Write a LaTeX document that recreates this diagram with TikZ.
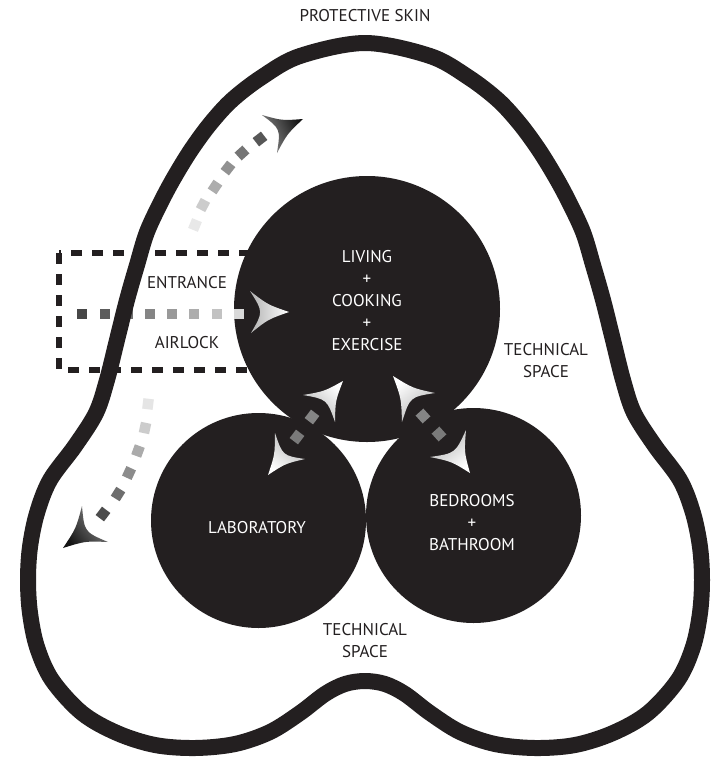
\documentclass[tikz,border=0pt]{standalone}
\usepackage{fontspec}
\setmainfont{PT Sans}
\usetikzlibrary{calc}
\definecolor{ink}{RGB}{35,31,32}
\newcommand\ahead[6]{%
  \coordinate (aT) at #1; \coordinate (aA) at #2; \coordinate (aB) at #3;
  \coordinate (aC) at ($0.3333*(aT)+0.3333*(aA)+0.3333*(aB)$);
  \shade[top color=#4, bottom color=#5, shading angle=#6]
    (aT) .. controls ($(aT)!0.5!(aA)!0.3!(aC)$) .. (aA)
    .. controls (aC) .. (aB)
    .. controls ($(aB)!0.5!(aT)!0.3!(aC)$) .. (aT) -- cycle;
}
\begin{document}
\begin{tikzpicture}[x=1pt,y=-1pt,
  lbl/.style={font=\fontsize{17}{22}\selectfont, align=center, inner sep=0pt},
  dk/.style={lbl, text=ink},
  wt/.style={lbl, text=white},
  room/.style={circle, fill=ink, inner sep=0pt, draw=none},
  boxdash/.style={draw=ink, line width=6pt, dash pattern=on 11pt off 10pt},
  skin/.style={draw=ink, line width=16pt, line join=round}]
\useasboundingbox (0,0) rectangle (713,774);
\fill[white] (0,0) rectangle (713,774);
% airlock box
\draw[boxdash] (59,253) rectangle (300,370);
% rooms
\node[room, minimum size=266pt] (living) at (367,309) {};
\node[room, minimum size=215pt] (lab) at (258.5,520.5) {};
\node[room, minimum size=215pt] (bed) at (473.5,515.5) {};
% gradient dashes
\foreach \x/\y/\a/\c in {82/314/0/72, 105/314/0/64, 128/314/0/56, 150/314/0/48, 172/314/0/40, 194/314/0/32, 217/314/0/24, 239/314/0/15,
  195/225/68/9, 203/205/62/20, 215/187/56/32, 228/168/52/43, 242/153/42/54, 260/139/38/66,
  148/404/83/10, 145/428/78/20, 138/451/70/33, 129/473/65/45, 118/494/58/57, 103/514/53/70,
  312/417/53/48, 297/437/53/52, 423/416/42/48, 439/434/42/52}
  \fill[black!\c, shift={(\x,\y)}, rotate=\a] (-5.25,-5.25) rectangle (5.25,5.25);
% arrow heads
\ahead{(289,312)}{(250,291)}{(251,333)}{white}{black!30}{-90}
\ahead{(303,119)}{(262,115)}{(277,153)}{black!92}{black!45}{-66}
\ahead{(63,548)}{(82,506)}{(108,542)}{black!92}{black!45}{127}
\ahead{(343,381)}{(303,395)}{(335,422)}{white}{black!30}{-41}
\ahead{(268,475)}{(275,433)}{(305,459)}{white}{black!30}{143}
\ahead{(393,376)}{(435,393)}{(402,422)}{white}{black!30}{39}
\ahead{(470,473)}{(466,430)}{(430,457)}{white}{black!30}{-143}
% protective skin
\draw[skin] plot[smooth cycle, tension=0.55] coordinates {
  (365,43) (300,56) (262,77) (232,100) (210,124) (191,150) (175,176) (162,200)
  (147,232) (137,265) (127,300) (117,340) (107,380) (96,413) (75,446) (50,480)
  (37,513) (30,547) (28,580) (30,613) (37,647) (52,680) (82,713) (117,733)
  (155,745) (195,748) (235,744) (270,732) (300,713) (325,694) (345,684) (365,681)
  (385,684) (405,694) (430,713) (460,732) (495,744) (535,748) (575,745)
  (613,733) (648,713) (678,680) (693,647) (700,613) (702,580) (700,547)
  (693,513) (680,480) (655,446) (634,413) (623,380) (613,340) (603,300)
  (593,265) (583,232) (568,200) (555,176) (539,150) (520,124) (498,100)
  (468,77) (430,56)};
% labels
\node[dk] (tskin) at (365,16) {PROTECTIVE SKIN};
\node[wt] (tliving) at (367,301) {LIVING\\+\\COOKING\\+\\EXERCISE};
\node[wt] (tlab) at (257,528) {LABORATORY};
\node[wt] (tbed) at (472,523) {BEDROOMS\\+\\BATHROOM};
\node[dk] (tentr) at (187,283) {ENTRANCE};
\node[dk] (tair) at (187,343) {AIRLOCK};
\node[dk] (ttech1) at (546,361) {TECHNICAL\\SPACE};
\node[dk] (ttech2) at (365,641) {TECHNICAL\\SPACE};
\end{tikzpicture}
\end{document}
